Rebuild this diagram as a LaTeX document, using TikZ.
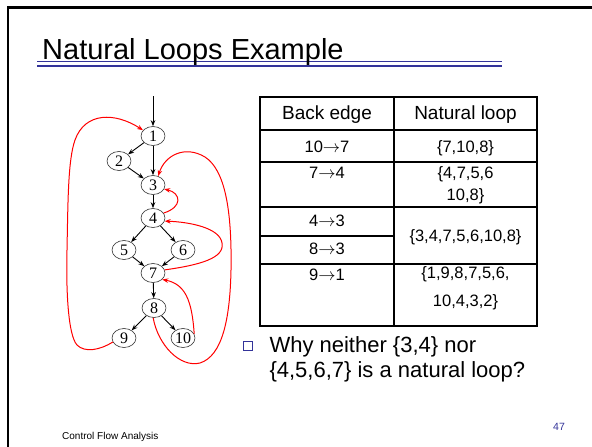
\documentclass[tikz,border=0pt]{standalone}
\usepackage{fontspec}
\setmainfont{Liberation Sans}
\newfontfamily\serifnum{Liberation Serif}
\usetikzlibrary{shapes.geometric,arrows.meta}
\definecolor{slideblue}{RGB}{51,51,153}
\begin{document}
\begin{tikzpicture}[x=1pt,y=-1pt,
  vnode/.style={ellipse,draw=black!80,line width=0.6pt,minimum width=24pt,minimum height=19pt,inner sep=0pt,font=\serifnum\fontsize{16}{16}\selectfont},
  fedge/.style={line width=0.9pt,-{Stealth[length=6pt,width=4.5pt]}},
  bedge/.style={red,line width=1pt,-{Stealth[length=6pt,width=4.5pt]}},
  tline/.style={line width=1.4pt},
  hd/.style={anchor=base,font=\fontsize{19}{19}\selectfont},
  bd/.style={anchor=base,font=\fontsize{16.5}{16.5}\selectfont},
  bt/.style={anchor=base west,font=\fontsize{22}{25}\selectfont},
]
\useasboundingbox (0,0) rectangle (592,447);
\fill[white] (0,0) rectangle (592,447);
% slide frame
\draw[line width=2.5pt] (8,447) -- (8,7.5) -- (592,7.5);
% title
\draw[slideblue,line width=1pt] (37,61.5) -- (502,61.5);
\draw[slideblue,line width=2.5pt] (37,66) -- (502,66);
\node[anchor=base west,font=\fontsize{29}{29}\selectfont,inner sep=0pt] (title) at (42,59) {Natural Loops Example};

% graph nodes
\node[vnode] (n1) at (153,136) {1};
\node[vnode] (n2) at (119,161) {2};
\node[vnode] (n3) at (153,185) {3};
\node[vnode] (n4) at (153,218) {4};
\node[vnode] (n5) at (124,250) {5};
\node[vnode] (n6) at (183,250) {6};
\node[vnode] (n7) at (153,273) {7};
\node[vnode] (n8) at (154,308) {8};
\node[vnode] (n9) at (124,338) {9};
\node[vnode] (n10) at (183,338) {10};
\coordinate (entry) at (153,96);

% forward edges
\draw[fedge] (entry) -- (n1);
\draw[fedge] (n1) -- (n2);
\draw[fedge] (n1) -- (n3);
\draw[fedge] (n2) -- (n3);
\draw[fedge] (n3) -- (n4);
\draw[fedge] (n4) -- (n5);
\draw[fedge] (n4) -- (n6);
\draw[fedge] (n5) -- (n7);
\draw[fedge] (n6) -- (n7);
\draw[fedge] (n7) -- (n8);
\draw[fedge] (n8) -- (n9);
\draw[fedge] (n8) -- (n10);

% back edges
\draw[bedge] (n9.200) .. controls (100,350) and (85,353) .. (77,345)
  .. controls (68,335) and (66,290) .. (67,250)
  .. controls (68,200) and (68,160) .. (75,140)
  .. controls (85,112) and (115,112) .. (n1.150);
\draw[bedge] (n8.265) .. controls (158,345) and (180,368) .. (200,363)
  .. controls (222,356) and (230,320) .. (231,270)
  .. controls (232,210) and (225,170) .. (205,157)
  .. controls (185,145) and (165,155) .. (n3.60);
\draw[bedge] (n4.25) .. controls (183,207) and (181,193) .. (n3.-20);
\draw[bedge] (n7.15) .. controls (200,265) and (225,258) .. (222,243)
  .. controls (220,228) and (190,222) .. (n4.-15);
\draw[bedge] (n10.20) .. controls (192,300) and (185,284) .. (n7.-35);

% table
\draw[tline] (260,97) rectangle (537,326);
\draw[tline] (394,97) -- (394,326);
\draw[tline] (260,130) -- (537,130);
\draw[tline] (260,162) -- (537,162);
\draw[tline] (260,207) -- (537,207);
\draw[tline] (260,236) -- (394,236);
\draw[tline] (260,264) -- (537,264);
\node[hd] (h1) at (327,119) {Back edge};
\node[hd] (h2) at (465.5,119) {Natural loop};
\node[bd] (e1) at (327,152) {10$\rightarrow$7};
\node[bd] (l1) at (465.5,152) {\{7,10,8\}};
\node[bd] (e2) at (327,178) {7$\rightarrow$4};
\node[bd] (l2a) at (465.5,178) {\{4,7,5,6};
\node[bd] (l2b) at (465.5,200) {10,8\}};
\node[bd] (e3) at (327,226) {4$\rightarrow$3};
\node[bd] (e4) at (327,254) {8$\rightarrow$3};
\node[bd] (l3) at (465.5,241) {\{3,4,7,5,6,10,8\}};
\node[bd] (e5) at (327,280) {9$\rightarrow$1};
\node[bd] (l5a) at (465.5,278) {\{1,9,8,7,5,6,};
\node[bd] (l5b) at (465.5,306) {10,4,3,2\}};

% bullet
\node[draw=slideblue,line width=1pt,minimum size=9pt,inner sep=0pt] (bul) at (247.5,345.5) {};
\node[bt] (q1) at (266,352) {Why neither \{3,4\} nor};
\node[bt] (q2) at (266,377) {\{4,5,6,7\} is a natural loop?};

% footer
\node[anchor=base west,font=\fontsize{10}{10}\selectfont,inner sep=0pt] (foot) at (62,439) {Control Flow Analysis};
\node[anchor=base west,text=slideblue,font=\fontsize{10.5}{10.5}\selectfont,inner sep=0pt] (pg) at (553,430) {47};
\end{tikzpicture}
\end{document}
